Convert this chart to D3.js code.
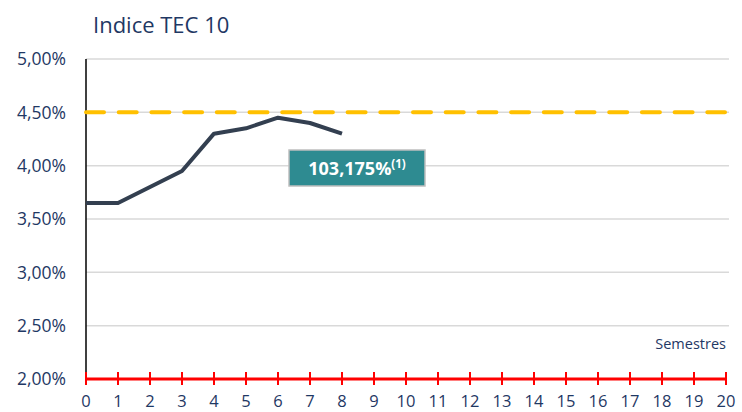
<!DOCTYPE html>
<html><head><meta charset="utf-8">
<script src="https://cdn.jsdelivr.net/npm/d3@7"></script>
<style>body{margin:0;background:#fff;} svg{display:block;}</style>
</head><body>
<svg id="c" width="742" height="412"></svg>
<script>
const semestres = [0,1,2,3,4,5,6,7,8];
const tec10 = [3.65,3.65,3.80,3.95,4.30,4.35,4.45,4.40,4.30];
const barrier = 4.50;
const yTicks = [2.0,2.5,3.0,3.5,4.0,4.5,5.0];
const xTicks = d3.range(0,21);
const title = "Indice TEC 10";
const boxLabel = "103,175%";
const boxSup = "(1)";
const xTitle = "Semestres";

const svg = d3.select("#c");
const font = "'Open Sans', sans-serif";
const navy = "#1F3864";
const x = d3.scaleLinear().domain([0,20]).range([86,726]);
const y = d3.scaleLinear().domain([2,5]).range([379,59]);
const fmt = v => d3.format(".2f")(v).replace(".", ",") + "%";

// gridlines
svg.append("g").selectAll("line").data(yTicks.filter(d=>d>2)).join("line")
  .attr("x1", x(0)).attr("x2", 729).attr("y1", d=>y(d)).attr("y2", d=>y(d))
  .attr("stroke","#d9d9d9").attr("stroke-width",1.5);

// y labels
svg.append("g").selectAll("text").data(yTicks).join("text")
  .attr("x", 66).attr("y", d=>y(d)).attr("dy","0.36em")
  .attr("text-anchor","end").attr("font-family",font).attr("font-size",17.5)
  .attr("fill",navy).text(fmt);

// y axis line
svg.append("line").attr("x1",x(0)).attr("x2",x(0)).attr("y1",y(5)).attr("y2",y(2))
  .attr("stroke","#000").attr("stroke-width",1.5);

// barrier dashed
svg.append("line").attr("x1",x(0)).attr("x2",725).attr("y1",y(barrier)).attr("y2",y(barrier))
  .attr("stroke","#FFC000").attr("stroke-width",4).attr("stroke-dasharray","18,14.7")
  .attr("stroke-linecap","round");

// series line
svg.append("path").datum(semestres.map((s,i)=>[s,tec10[i]]))
  .attr("d", d3.line().x(d=>x(d[0])).y(d=>y(d[1])))
  .attr("fill","none").attr("stroke","#333F50").attr("stroke-width",4)
  .attr("stroke-linejoin","round");

// red x axis
const gx = svg.append("g").attr("transform",`translate(0,${y(2)})`);
gx.append("line").attr("x1",x(0)).attr("x2",x(20)).attr("stroke","#FF0000").attr("stroke-width",3);
gx.selectAll("line.t").data(xTicks).join("line").attr("class","t")
  .attr("x1",d=>x(d)).attr("x2",d=>x(d)).attr("y1",-7).attr("y2",6)
  .attr("stroke","#FF0000").attr("stroke-width",2);
gx.selectAll("text").data(xTicks).join("text")
  .attr("x",d=>x(d)).attr("y",28).attr("text-anchor","middle")
  .attr("font-family",font).attr("font-size",16.5).attr("fill",navy).text(d=>d);

// title
svg.append("text").attr("x",93).attr("y",33).attr("font-family",font).attr("font-size",22)
  .attr("fill",navy).text(title);

// x title
svg.append("text").attr("x",726).attr("y",349).attr("text-anchor","end")
  .attr("font-family",font).attr("font-size",14.5).attr("fill",navy).text(xTitle);

// label box
svg.append("rect").attr("x",289).attr("y",150).attr("width",136).attr("height",36)
  .attr("fill","#2E8B91").attr("stroke","#bfbfbf").attr("stroke-width",1.5);
const t = svg.append("text").attr("x",357).attr("y",175).attr("text-anchor","middle")
  .attr("font-family",font).attr("font-weight","bold").attr("fill","#fff");
t.append("tspan").attr("font-size",18).text(boxLabel);
t.append("tspan").attr("font-size",11.5).attr("dy",-7).text(boxSup);
</script>
</body></html>
